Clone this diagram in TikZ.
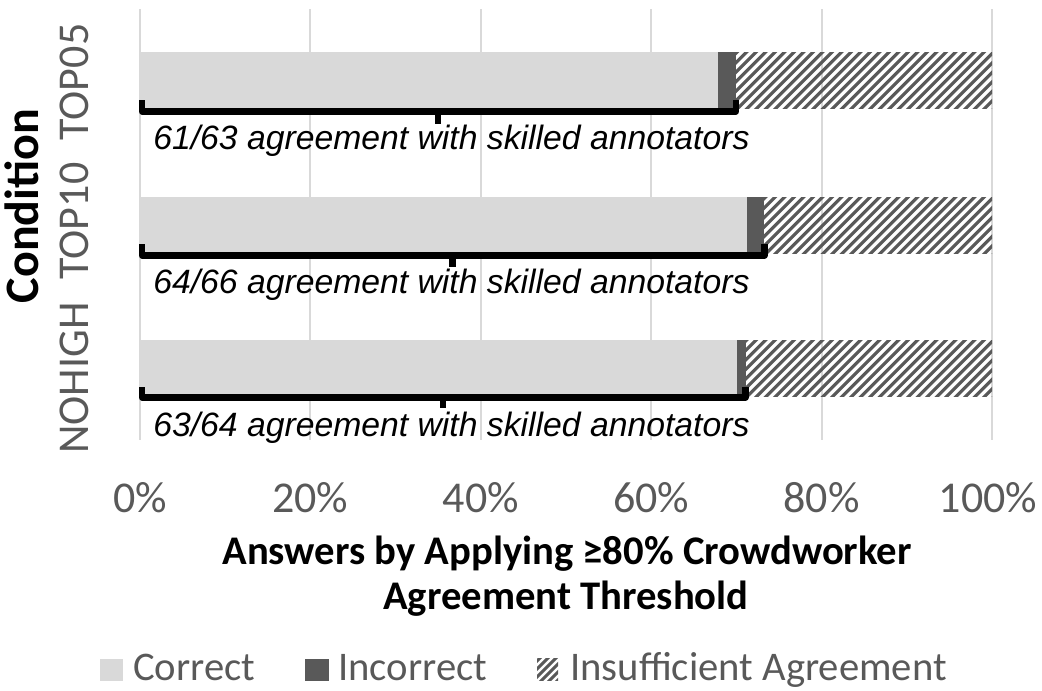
\documentclass[tikz,border=0pt]{standalone}
\usepackage{fontspec}
\setmainfont{Carlito}
\newfontfamily\arialf{Liberation Sans}
\definecolor{corr}{HTML}{D9D9D9}
\definecolor{inc}{HTML}{595959}
\definecolor{gridc}{HTML}{D9D9D9}
\definecolor{txt}{HTML}{595959}
\newcommand\hatchrect[4]{%
  \begin{scope}
    \clip (#1,#2) rectangle (#3,#4);
    \foreach \c in {500,509.5,...,1100} {\draw[inc,line width=2.4pt] (\c,#4+10) -- ++(90,-90);}
  \end{scope}}
\begin{document}
\begin{tikzpicture}[x=0.75pt,y=-0.75pt,
  gridline/.style={draw=gridc,line width=1.5pt},
  bracket/.style={draw=black,line width=4.6pt,line join=round},
  ticklbl/.style={text=txt,font=\fontsize{33}{40}\selectfont,inner sep=0,anchor=base},
  catlbl/.style={text=txt,font=\fontsize{33}{40}\selectfont,inner sep=0,anchor=base,rotate=90},
  annot/.style={font=\arialf\itshape\fontsize{25.3}{30}\selectfont,inner sep=0,anchor=base west},
  titlelbl/.style={font=\bfseries\fontsize{30.5}{36}\selectfont,inner sep=0,anchor=base},
  leglbl/.style={text=txt,font=\fontsize{30.5}{36}\selectfont,inner sep=0,anchor=base west},
]
\useasboundingbox (0,0) rectangle (1042,690);
% grid
\foreach \x in {140,310.4,480.8,651.2,821.6,992} {\draw[gridline] (\x,9) -- (\x,440);}
% bars
\fill[corr] (140,52) rectangle (718,108);
\fill[inc] (718,52) rectangle (736,108);
\hatchrect{736}{52}{992}{108}
\fill[corr] (140,197) rectangle (747,253);
\fill[inc] (747,197) rectangle (764,253);
\hatchrect{764}{197}{992}{253}
\fill[corr] (140,340) rectangle (737,396);
\fill[inc] (737,340) rectangle (746,396);
\hatchrect{746}{340}{992}{396}
% brackets
\draw[bracket] (142,100) -- (142,111.5) -- (736,111.5) -- (736,100);
\draw[bracket] (438,111.5) -- (438,124);
\draw[bracket] (142,244) -- (142,255.5) -- (764.5,255.5) -- (764.5,244);
\draw[bracket] (452.5,255.5) -- (452.5,267);
\draw[bracket] (142,387) -- (142,397.5) -- (745.5,397.5) -- (745.5,387);
\draw[bracket] (443,397.5) -- (443,408);
% annotations
\node[annot] (a1) at (153,149) {61/63 agreement with skilled annotators};
\node[annot] (a2) at (153,293) {64/66 agreement with skilled annotators};
\node[annot] (a3) at (153,436) {63/64 agreement with skilled annotators};
% tick labels
\node[ticklbl] (t0) at (140,512) {0\%};
\node[ticklbl] (t20) at (310.4,512) {20\%};
\node[ticklbl] (t40) at (480.8,512) {40\%};
\node[ticklbl] (t60) at (651.2,512) {60\%};
\node[ticklbl] (t80) at (821.6,512) {80\%};
\node[ticklbl] (t100) at (988,512) {100\%};
% category labels
\node[catlbl] (c1) at (88,82) {TOP05};
\node[catlbl] (c2) at (88,221) {TOP10};
\node[catlbl] (c3) at (88,378) {NOHIGH};
\node[titlelbl,font=\bfseries\fontsize{36}{40}\selectfont,rotate=90] (cond) at (38,206) {Condition};
% axis title
\node[titlelbl] (x1) at (567,564) {Answers by Applying ≥80\% Crowdworker};
\node[titlelbl] (x2) at (566,609) {Agreement Threshold};
% legend
\fill[corr] (100,659) rectangle (123,681);
\node[leglbl] (l1) at (133,680) {Correct};
\fill[inc] (305,659) rectangle (329,681);
\node[leglbl] (l2) at (338,680) {Incorrect};
\begin{scope}
  \clip (537,658) rectangle (558,680);
  \foreach \c in {1180,1188,...,1260} {\draw[inc,line width=2.2pt] (\c-680,682) -- ++(30,-30);}
\end{scope}
\node[leglbl] (l3) at (570,680) {Insufficient Agreement};
\end{tikzpicture}
\end{document}
